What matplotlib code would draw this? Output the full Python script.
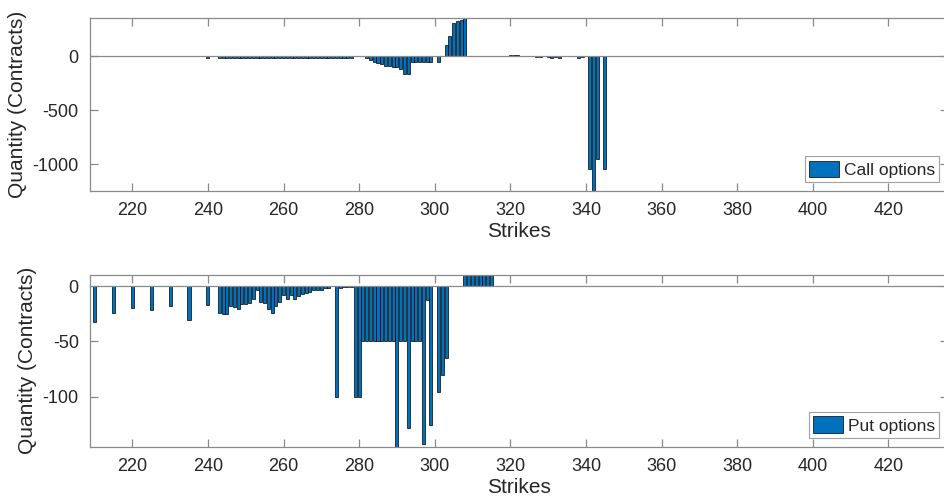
import matplotlib
matplotlib.use("Agg")
import matplotlib.pyplot as plt

plt.rcParams['font.family'] = ['Liberation Sans', 'DejaVu Sans']
plt.rcParams['axes.unicode_minus'] = False

# call options: strike -> net quantity
call_strikes = [240,
                243, 244, 245, 246, 247, 248, 249, 250, 251, 252, 253, 254,
                255, 256, 257, 258, 259, 260, 261, 262, 263, 264, 265, 266,
                267, 268, 269, 270, 271, 272, 273, 274, 275, 276, 277, 278,
                282, 283, 284, 285, 286, 287, 288, 289, 290, 291, 292, 293,
                294, 295, 296, 297, 298, 299, 301,
                303, 304, 305, 306, 307, 308,
                312, 314, 315, 318, 319, 320, 321, 322, 323,
                327, 328, 330, 331, 332, 333, 338, 339,
                341, 342, 343, 345]
call_qty = [-10,
            -12, -12, -12, -12, -12, -12, -12, -12, -12, -12, -12, -12,
            -12, -12, -12, -12, -12, -12, -12, -12, -12, -12, -12, -12,
            -12, -12, -12, -12, -12, -12, -12, -12, -12, -12, -12, -12,
            -16, -37, -53, -62, -72, -84, -84, -100, -100, -115, -162, -162,
            -53, -53, -53, -53, -53, -53, -53,
            109, 193, 312, 328, 343, 355,
            3, 5, 3, 5, 8, 10, 12, 12, 8,
            -5, -8, -6, -10, -8, -15, -10, -5,
            -1050, -1250, -950, -1050]

# put options: strike -> net quantity
put_strikes = [210, 215, 220, 225, 230, 235, 240,
               243, 244, 245, 246, 247, 248, 249, 250, 251, 252, 253, 254,
               255, 256, 257, 258, 259, 260, 261, 262, 263, 264, 265, 266,
               267, 268, 269, 270, 271, 272,
               274, 275, 276, 277, 278, 279, 280,
               281, 282, 283, 284, 285, 286, 287, 288, 289,
               290, 291, 292, 293, 294, 295, 296, 297, 298, 299,
               301, 302, 303,
               308, 309, 310, 311, 312, 313, 314, 315]
put_qty = [-32, -24, -20, -22, -18, -31, -17,
           -24, -25, -25, -18, -19, -21, -16, -16, -15, -12, -4, -14,
           -15, -21, -24, -18, -14, -8, -12, -8, -12, -9, -7, -6,
           -5, -4, -4, -4, -2, -2,
           -100, -2, -1, -1, -1, -100, -100,
           -50, -50, -50, -50, -50, -50, -50, -50, -50,
           -145, -50, -50, -128, -50, -50, -50, -143, -13, -125,
           -96, -80, -65,
           10, 10, 10, 10, 10, 10, 10, 10]

xticks = [220, 240, 260, 280, 300, 320, 340, 360, 380, 400, 420]

blue = '#0072BD'
grey = '#8a8a8a'
txt = '#262626'

fig = plt.figure(figsize=(9.44, 5.04), dpi=100)
ax1 = fig.add_axes([0.0953, 0.621, 0.909, 0.3427])
ax2 = fig.add_axes([0.0953, 0.1137, 0.909, 0.3407])


def style(ax, strikes, qty, ylim, yticks, label):
    ax.bar(strikes, qty, width=0.8, color=blue, edgecolor='black',
           linewidth=0.5, label=label, zorder=2)
    ax.axhline(0, color=grey, lw=0.9, zorder=3)
    ax.set_xlim(208.8, 435.8)
    ax.set_ylim(*ylim)
    ax.set_xticks(xticks)
    ax.set_yticks(yticks)
    for s in ax.spines.values():
        s.set_color(grey)
        s.set_linewidth(0.9)
    ax.tick_params(direction='in', length=6, width=0.9, color=grey,
                   labelcolor=txt, labelsize=13, top=True, right=True, pad=8)
    ax.set_xlabel('Strikes', fontsize=15, color=txt, labelpad=2)
    ax.set_ylabel('Quantity (Contracts)', fontsize=15, color=txt, labelpad=4)
    leg = ax.legend(loc='lower right', fontsize=12.5, frameon=True,
                    fancybox=False, handlelength=1.7, handleheight=1.1,
                    handletextpad=0.3, borderpad=0.25, borderaxespad=0.5)
    leg.get_frame().set_edgecolor(grey)
    leg.get_frame().set_linewidth(0.8)
    for t in leg.get_texts():
        t.set_color(txt)


style(ax1, call_strikes, call_qty, (-1250, 355), [-1000, -500, 0], 'Call options')
style(ax2, put_strikes, put_qty, (-145, 10), [-100, -50, 0], 'Put options')

fig.savefig('out.png', dpi=100)
